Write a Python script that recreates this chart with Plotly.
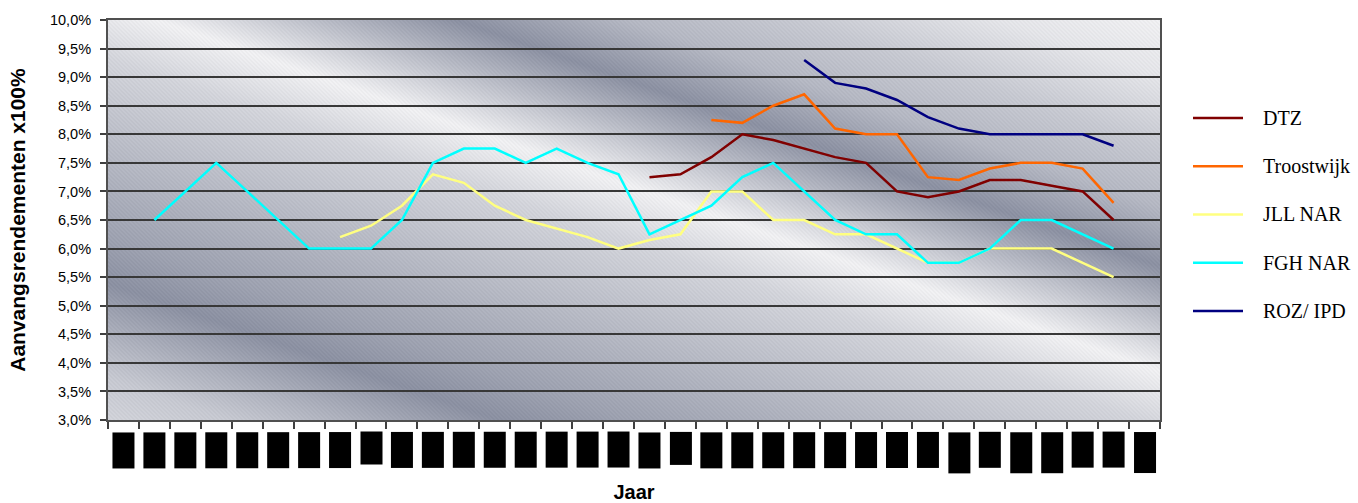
import base64
import struct
import zlib

import numpy as np
import plotly.graph_objects as go

# ---- data -------------------------------------------------------------
years = [str(y) for y in range(1973, 2007)]

dtz = [None] * 17 + [7.25, 7.3, 7.6, 8.0, 7.9, 7.75, 7.6, 7.5, 7.0, 6.9,
                     7.0, 7.2, 7.2, 7.1, 7.0, 6.5] + [None]
troostwijk = [None] * 19 + [8.25, 8.2, 8.5, 8.7, 8.1, 8.0, 8.0, 7.25, 7.2,
                            7.4, 7.5, 7.5, 7.4, 6.8] + [None]
jll_nar = [None] * 7 + [6.2, 6.4, 6.75, 7.3, 7.15, 6.75, 6.5, 6.35, 6.2, 6.0,
                        6.15, 6.25, 7.0, 7.0, 6.5, 6.5, 6.25, 6.25, 6.0, 5.75,
                        5.75, 6.0, 6.0, 6.0, 5.75, 5.5] + [None]
fgh_nar = [None] + [6.5, 7.0, 7.5, 7.0, 6.5, 6.0, 6.0, 6.0, 6.5, 7.5,
                    7.75, 7.75, 7.5, 7.75, 7.5, 7.3, 6.25, 6.5, 6.75, 7.25,
                    7.5, 7.0, 6.5, 6.25, 6.25, 5.75, 5.75, 6.0, 6.5, 6.5,
                    6.25, 6.0] + [None]
roz_ipd = [None] * 22 + [9.3, 8.9, 8.8, 8.6, 8.3, 8.1, 8.0, 8.0, 8.0, 8.0,
                         7.8] + [None]

series_names = ["DTZ", "Troostwijk", "JLL NAR", "FGH NAR", "ROZ/ IPD"]
series_values = [dtz, troostwijk, jll_nar, fgh_nar, roz_ipd]
series_colors = ["#800000", "#FF6600", "#FFFF80", "#00FFFF", "#000080"]

ytick_vals = [3.0 + 0.5 * k for k in range(15)]
ytick_text = [f"{v:.1f}".replace(".", ",") + "%" for v in ytick_vals]

# ---- style ------------------------------------------------------------
FIG_W, FIG_H = 1358, 503
M_L, M_R, M_T, M_B = 108, 198, 20, 83
PLOT_W = FIG_W - M_L - M_R
PLOT_H = FIG_H - M_T - M_B
SANS = "Arial, Liberation Sans, sans-serif"
SERIF = "Times New Roman, Liberation Serif, serif"

# length (px) of the black year-label boxes under each category
label_len = [36] * 34
for k in (8, 18):
    label_len[k] = 33
for k in (27, 29, 30, 33):
    label_len[k] = 41


def png_data_uri(arr):
    h, w, _ = arr.shape
    raw = b"".join(b"\x00" + arr[r].tobytes() for r in range(h))

    def chunk(tag, data):
        body = tag + data
        return (struct.pack(">I", len(data)) + body
                + struct.pack(">I", zlib.crc32(body) & 0xFFFFFFFF))

    png = (b"\x89PNG\r\n\x1a\n"
           + chunk(b"IHDR", struct.pack(">IIBBBBB", w, h, 8, 2, 0, 0, 0))
           + chunk(b"IDAT", zlib.compress(raw, 9))
           + chunk(b"IEND", b""))
    return "data:image/png;base64," + base64.b64encode(png).decode("ascii")


# metallic diagonal-banded plot background
gx, gy = np.meshgrid(np.arange(PLOT_W) + M_L, np.arange(PLOT_H) + M_T)
band = gy - 0.35 * gx
band_pos = [-390, -330, -260, -200, -140, -90, -35, 20, 80, 140, 200, 245, 300, 340, 390]
band_dark = [0.0, 0.1, 0.35, 0.5, 0.85, 0.45, 0.0, 0.25, 0.4, 0.55, 0.7, 0.85, 0.55, 0.35, 0.25]
t = np.interp(band, band_pos, band_dark)[..., None]
light = np.array([240.0, 240.0, 242.0])
dark = np.array([122.0, 128.0, 148.0])
bg = light * (1 - t) + dark * t
bg += (((gx - gy) % 4 < 2) * 6.0 - 3.0)[..., None]
bg = np.clip(bg, 0, 255).astype(np.uint8)
bg_uri = png_data_uri(bg)

# ---- figure -----------------------------------------------------------
fig = go.Figure()
for name, vals, col in zip(series_names, series_values, series_colors):
    fig.add_trace(go.Scatter(
        x=years, y=vals, name=name, mode="lines",
        line=dict(color=col, width=2.5),
        connectgaps=False, showlegend=False,
    ))

annotations = []
shapes = []

# year labels rendered as solid black boxes below each category
for idx, (yr, ln) in enumerate(zip(years, label_len)):
    annotations.append(dict(
        x=idx, xref="x", y=-12 / PLOT_H, yref="paper",
        xanchor="center", yanchor="top",
        text=yr, textangle=-90, showarrow=False,
        font=dict(family=SANS, size=13, color="black"),
        bgcolor="black", width=ln, height=22,
        borderpad=0, borderwidth=0,
    ))

# legend on the right
leg_y0, leg_dy = 118, 48.25
for k, (name, col) in enumerate(zip(series_names, series_colors)):
    ypx = leg_y0 + k * leg_dy
    yp = (M_T + PLOT_H - ypx) / PLOT_H
    shapes.append(dict(
        type="line", xref="paper", yref="paper",
        x0=(1193 - M_L) / PLOT_W, x1=(1243 - M_L) / PLOT_W, y0=yp, y1=yp,
        line=dict(color=col, width=2.5),
    ))
    annotations.append(dict(
        x=(1261 - M_L) / PLOT_W, xref="paper", y=yp, yref="paper",
        xanchor="left", yanchor="middle", text=name, showarrow=False,
        font=dict(family=SERIF, size=20, color="black"),
    ))

fig.update_layout(
    width=FIG_W, height=FIG_H,
    margin=dict(l=M_L, r=M_R, t=M_T, b=M_B, pad=0),
    paper_bgcolor="white", plot_bgcolor="#c4c7ce",
    showlegend=False,
    annotations=annotations,
    shapes=shapes,
    images=[dict(
        source=bg_uri, xref="paper", yref="paper", x=0, y=1,
        sizex=1, sizey=1, xanchor="left", yanchor="top",
        sizing="stretch", layer="below",
    )],
    xaxis=dict(
        type="category", categoryorder="array", categoryarray=years,
        range=[-0.5, len(years) - 0.5],
        showgrid=False, showticklabels=False,
        ticks="outside", tickson="boundaries", ticklen=7, tickwidth=1.5,
        tickcolor="#404040",
        showline=True, linecolor="#505050", linewidth=2, mirror=True,
        title=dict(text="<b>Jaar</b>", standoff=67,
                   font=dict(family=SANS, size=20, color="black")),
        automargin=False,
    ),
    yaxis=dict(
        range=[3, 10], tickmode="array", tickvals=ytick_vals, ticktext=ytick_text,
        showgrid=True, gridcolor="#383838", gridwidth=2,
        ticks="outside", ticklen=6, tickwidth=1.5, tickcolor="#404040",
        ticklabelstandoff=6,
        tickfont=dict(family=SANS, size=14.5, color="black"),
        showline=True, linecolor="#505050", linewidth=2, mirror=True,
        zeroline=False,
        title=dict(text="<b>Aanvangsrendementen x100%</b>", standoff=19,
                   font=dict(family=SANS, size=21, color="black")),
        automargin=False,
    ),
)

fig.write_html("out.html")
